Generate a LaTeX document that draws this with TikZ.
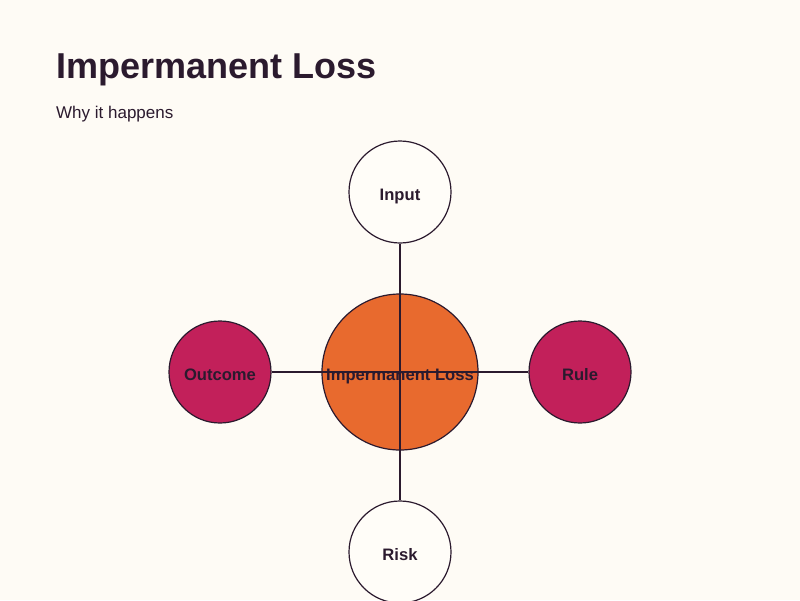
\documentclass[tikz,border=0pt]{standalone}
\usepackage{fontspec}
\setmainfont{Liberation Sans}
\definecolor{bgcol}{HTML}{FEFBF5}
\definecolor{inkcol}{HTML}{2B1A2E}
\definecolor{hubcol}{HTML}{E86A2E}
\definecolor{sidecol}{HTML}{C2205A}
\definecolor{lightcol}{HTML}{FFFDF8}
\tikzset{
  bubble/.style = {circle, draw = inkcol, line width = 1.2pt, minimum size = 102pt, inner sep = 0pt, text height = 16pt, text depth = 0pt, text = inkcol, font = \fontsize{16.6}{18}\selectfont\bfseries},
  hub/.style = {bubble, fill = hubcol, minimum size = 156pt},
  link/.style = {draw = inkcol, line width = 1.5pt}
}
\begin{document}
\begin{tikzpicture}[x = 1pt, y = -1pt]
\fill[bgcol] (0, 0) rectangle (800, 600);
\useasboundingbox (0, 0) rectangle (800, 600);
\node[anchor = base west, inner sep = 0pt, text = inkcol, font = \fontsize{36}{40}\selectfont\bfseries] (title) at (56, 78) {Impermanent Loss};
\node[anchor = base west, inner sep = 0pt, text = inkcol, font = \fontsize{17}{20}\selectfont] (subtitle) at (56, 118) {Why it happens};
\node[hub] (loss) at (400, 372) {Impermanent Loss};
\node[bubble, fill = lightcol] (input) at (400, 192) {Input};
\node[bubble, fill = sidecol] (outcome) at (220, 372) {Outcome};
\node[bubble, fill = sidecol] (rule) at (580, 372) {Rule};
\node[bubble, fill = lightcol] (risk) at (400, 552) {Risk};
\draw[link] (loss.center) -- (input);
\draw[link] (loss.center) -- (outcome);
\draw[link] (loss.center) -- (rule);
\draw[link] (loss.center) -- (risk);
\end{tikzpicture}
\end{document}
